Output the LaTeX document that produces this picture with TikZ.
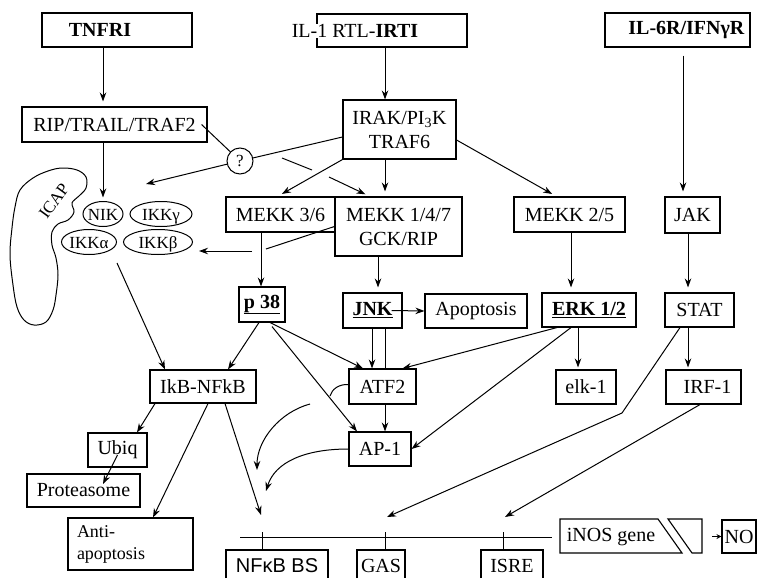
\documentclass[tikz,border=0pt]{standalone}
\usepackage{fontspec}
\setmainfont{Liberation Serif}
\newfontfamily\sansf{Liberation Sans}
\usetikzlibrary{arrows.meta}
\begin{document}
\begin{tikzpicture}[x=1pt,y=-1pt,
  font=\fontsize{20}{24}\selectfont,
  box/.style={draw,line width=1.1pt,inner sep=0pt,anchor=center},
  arr/.style={line width=1pt,-{Stealth[length=9pt,width=6.5pt]}},
  sarr/.style={line width=1pt,-{Stealth[length=5pt,width=5pt]}},
  ln/.style={line width=1pt},
  gap/.style={shorten >=5pt},
  small/.style={font=\fontsize{17}{20}\selectfont,inner sep=0pt,text height=12pt,text depth=0pt}]
\useasboundingbox (0,0) rectangle (757,578);

% receptors
\node[box,minimum width=150pt,minimum height=34pt] (tnf) at (117,30) {\hspace*{-34pt}\textbf{TNFRI}};
\node[box,minimum width=150pt,minimum height=33pt] (il1) at (392,30.5) {};
\node[fill=white,inner sep=0pt] (il1t) at (355,31) {IL-1 RTL-\textbf{IRTI}};
\node[box,minimum width=145pt,minimum height=34pt] (il6) at (677.5,30) {\hspace*{18pt}\textbf{IL-6R/IFNγR}};

% second row
\node[box,minimum width=185pt,minimum height=35pt] (rip) at (114.5,124.5) {RIP/TRAIL/TRAF2};
\node[box,minimum width=113pt,minimum height=59pt,align=center] (irak) at (399.5,129.5) {IRAK/PI\textsubscript{3}K\\TRAF6};
\node[draw,circle,line width=1pt,minimum size=26pt,inner sep=0pt,font=\fontsize{17}{20}\selectfont] (q) at (240,161) {?};

% MEKK row
\node[box,minimum width=109pt,minimum height=35pt] (mekk36) at (280.5,214.5) {MEKK 3/6};
\node[box,minimum width=127pt,minimum height=59pt,align=center] (mekk147) at (398.5,226.5) {MEKK 1/4/7\\GCK/RIP};
\node[box,minimum width=111pt,minimum height=35pt] (mekk25) at (569.5,214.5) {MEKK 2/5};
\node[box,minimum width=55pt,minimum height=36pt] (jak) at (692.5,215) {JAK};

% IKK complex
\node[small] (nik) at (103,214) {NIK};
\node[small] (ikkg) at (161,214) {IKKγ};
\node[small] (ikka) at (89,242) {IKKα};
\node[small] (ikkb) at (158,242) {IKKβ};
\draw[ln] (nik.center) ellipse [x radius=20pt,y radius=12.5pt];
\draw[ln] (ikkg.center) ellipse [x radius=31pt,y radius=12.5pt];
\draw[ln] (ikka.center) ellipse [x radius=27.5pt,y radius=12.5pt];
\draw[ln] (ikkb.center) ellipse [x radius=34.5pt,y radius=12.5pt];

% ICAP blob
\draw[line width=1pt] plot[smooth cycle,tension=0.6] coordinates {
 (20,190) (33,178) (48,171) (62,168) (77,170) (86,177) (86,188) (79,196)
 (72,203) (74,212) (68,220) (58,224) (52,232) (52,245) (56,258) (58,275)
 (56,295) (53,310) (46,322) (34,325) (24,320) (17,307) (13,285) (10,255)
 (12,228) (15,207)};
\node[rotate=54,font=\fontsize{17}{20}\selectfont,inner sep=0pt] (icap) at (54,201) {ICAP};

% kinase row
\node[box,minimum width=46pt,minimum height=35pt] (p38) at (262,304.5) {\textbf{\underline{p 38}}};
\node[box,minimum width=59pt,minimum height=35pt] (jnk) at (372.5,310.5) {\textbf{\underline{JNK}}};
\node[box,minimum width=102pt,minimum height=34pt] (apop) at (476,311) {Apoptosis};
\node[box,minimum width=94pt,minimum height=34pt] (erk) at (589,310) {\textbf{\underline{ERK 1/2}}};
\node[box,minimum width=69pt,minimum height=34pt] (stat) at (699.5,310) {STAT};

% transcription factors
\node[box,minimum width=106pt,minimum height=33pt] (ikb) at (203,386.5) {IkB-NFkB};
\node[box,minimum width=67pt,minimum height=35pt] (atf2) at (382.5,386.5) {ATF2};
\node[box,minimum width=60pt,minimum height=34pt] (elk) at (586,387) {elk-1};
\node[box,minimum width=75pt,minimum height=34pt] (irf) at (703.5,387) {\hspace*{8pt}IRF-1};
\node[box,minimum width=62pt,minimum height=34pt] (ap1) at (380,449) {AP-1};
\node[box,minimum width=59pt,minimum height=34pt] (ubiq) at (117.5,450) {Ubiq};
\node[box,minimum width=113pt,minimum height=33pt] (prot) at (83.5,490.5) {Proteasome};
\node[box,minimum width=125pt,minimum height=52pt,text width=107pt,align=left,font=\fontsize{18}{22}\selectfont] (anti) at (130.5,544) {Anti-\\apoptosis};

% gene
\coordinate (gl) at (240,537);
\coordinate (gr) at (552,537);
\draw[ln] (gl) -- (gr);
\draw[ln] (262,532) -- (262,550);
\draw[ln] (385,532) -- (385,550);
\draw[ln] (503,532) -- (503,550);
\draw[line width=1.1pt] (226,578) |- (328,550) -- (328,578);
\draw[line width=1.1pt] (357,578) |- (405,550) -- (405,578);
\draw[line width=1.1pt] (481,578) |- (543,550) -- (543,578);
\node[font=\sansf\fontsize{20}{24}\selectfont] (nfbs) at (277,566) {NFκB BS};
\node (gas) at (381,566) {GAS};
\node (isre) at (512,566) {ISRE};
\draw[line width=1.1pt] (560,519) -- (658,519) -- (682,553) -- (560,553) -- cycle;
\draw[line width=1.1pt] (668,519) -- (702,519) -- (702,553) -- (692,553) -- cycle;
\node (inos) at (611,537) {iNOS gene};
\node[box,minimum width=34pt,minimum height=33pt] (no) at (739,536.5) {NO};
\draw[sarr] ([xshift=-9pt]no.west) -- (no.west);

% connectors
\draw[arr,gap] ([xshift=-14pt]tnf.south) -- ([xshift=-14pt]tnf.south |- rip.north);
\draw[arr] ([xshift=-7pt]il1.south) -- ([xshift=-7pt]il1.south |- irak.north);
\draw[arr,gap] ([xshift=5.5pt,yshift=-8pt]il6.south) -- ([xshift=5.5pt]il6.south |- jak.north);
\draw[arr,shorten >=4pt] ([xshift=-11.5pt]rip.south) -- ([yshift=12.5pt]nik.center);
\draw[ln] ([xshift=-6pt]rip.east) -- (q);
\draw[ln] ([yshift=-7.5pt]irak.west) -- (q);
\coordinate (qtip) at (146,184);
\draw[arr] (q) -- (qtip);
\coordinate (b1) at (282,158);
\coordinate (b2) at (312,170);
\coordinate (b3) at (329,177);
\draw[ln] (b1) -- (b2);
\draw[arr,gap] (b3) -- ([xshift=-28.5pt]mekk147.north);
\draw[arr,gap] (irak.south west) -- ([xshift=-3pt]mekk36.north);
\draw[arr,gap] ([xshift=-14.5pt]irak.south) -- ([xshift=-14.5pt]irak.south |- mekk147.north);
\draw[arr,gap] ([yshift=-10.5pt]irak.east) -- ([xshift=-13pt]mekk25.north);
\draw[arr] ([xshift=-19.5pt]mekk36.south) -- ([xshift=-19.5pt]mekk36.south |- p38.north);
\coordinate (k1) at (266,249);
\coordinate (k2) at (252,251);
\coordinate (k3) at (199,251);
\draw[ln] (mekk147.west) -- (k1);
\draw[arr] (k2) -- (k3);
\coordinate (ikko) at (117,263);
\draw[arr] (ikko) -- ([xshift=-38pt]ikb.north);
\draw[arr,gap] ([xshift=-20.5pt]mekk147.south) -- ([xshift=-20.5pt]mekk147.south |- jnk.north);
\draw[arr,gap] ([xshift=1.5pt]mekk25.south) -- ([xshift=1.5pt]mekk25.south |- erk.north);
\draw[arr,gap] ([xshift=-4.5pt]jak.south) -- ([xshift=-4.5pt]jak.south |- stat.north);
\draw[arr] ([xshift=-11pt]jnk.east) -- (apop.west);
\draw[arr] ([xshift=-3pt]p38.south) -- ([xshift=25pt]ikb.north);
\draw[arr] ([xshift=8pt]p38.south) -- ([xshift=-19.5pt]atf2.north);
\draw[arr] ([xshift=10pt,yshift=-4pt]p38.south) -- ([xshift=-23pt]ap1.north);
\draw[arr] ([xshift=-0.5pt]jnk.south) -- ([xshift=-0.5pt]jnk.south |- atf2.north);
\draw[ln] ([xshift=12.5pt]jnk.south) -- ([xshift=12.5pt]jnk.south |- atf2.north);
\draw[arr] ([xshift=2.5pt]atf2.south) -- ([xshift=2.5pt]atf2.south |- ap1.north);
\draw[arr] ([xshift=-32pt]erk.south) -- ([xshift=20pt]atf2.north);
\draw[arr] ([xshift=-18pt]erk.south) -- (ap1.east);
\draw[arr,shorten >=2pt] ([xshift=-11pt]erk.south) -- ([xshift=-11pt]erk.south |- elk.north);
\draw[arr,shorten >=2pt] ([xshift=-11.5pt]stat.south) -- ([xshift=-11.5pt]stat.south |- irf.north);
\coordinate (sb) at (622,413);
\coordinate (gastip) at (387,517);
\draw[arr] ([xshift=-19.5pt]stat.south) -- (sb) -- (gastip);
\coordinate (isretip) at (505,517);
\draw[arr] ([xshift=-3.5pt]irf.south) -- (isretip);
\draw[arr] ([xshift=-48pt]ikb.south) -- ([xshift=19.5pt]ubiq.north);
\draw[arr] ([yshift=-5pt]ubiq.center) -- ([xshift=19.5pt,yshift=6.5pt]prot.center);
\draw[arr] ([xshift=5pt]ikb.south) -- ([xshift=22.5pt]anti.north);
\coordinate (nftip) at (261,515);
\draw[arr] ([xshift=22pt]ikb.south) -- (nftip);
\coordinate (c1) at (330,396);
\draw[ln] ([yshift=2pt]atf2.west) .. controls (339,384) and (332,389) .. (c1);
\coordinate (c2) at (310,404);
\coordinate (c3) at (257,470);
\draw[arr] (c2) .. controls (280,412) and (257,440) .. (c3);
\coordinate (c4) at (266,491);
\draw[arr] (ap1.west) .. controls (305,449) and (275,462) .. (c4);
\end{tikzpicture}
\end{document}
